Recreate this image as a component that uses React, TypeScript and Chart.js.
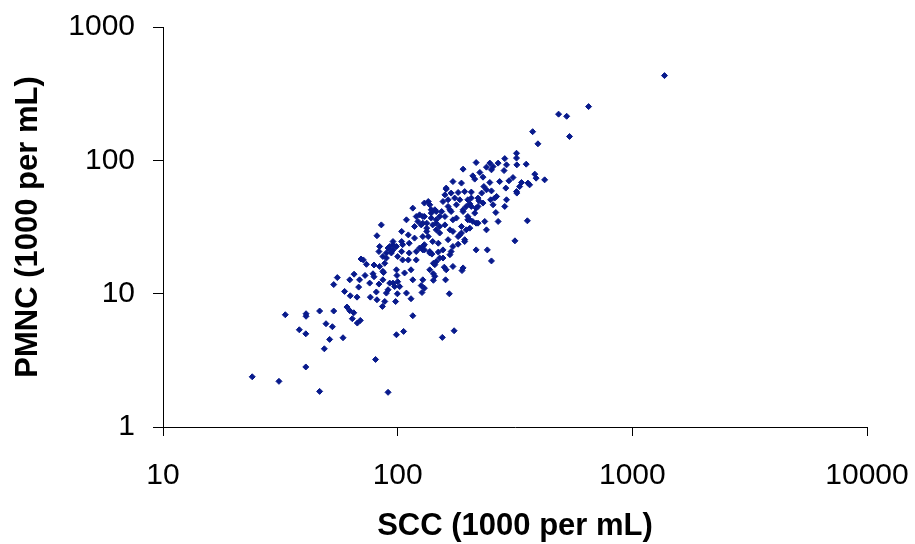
import React, { useEffect, useRef } from "react";
import { Chart, registerables } from "chart.js";

Chart.register(...registerables);

// SCC (1000 per mL) values, x axis
const sccValues: number[] = [
  24.0, 31.2, 46.5, 40.6, 33.2, 40.7, 40.7, 46.5, 53.4, 38.1, 40.6, 49.5, 52.7, 51.3, 48.7, 58.5, 80.5, 91.0, 98.8, 106,
  60.8, 62.5, 65.0, 64.1, 67.3, 69.3, 86.1, 98.0, 116, 155, 174,
  55.3, 53.4, 65.2, 72.6, 59.4, 62.8, 67.1, 68.2, 76.5, 81.1, 83.2, 78.5, 87.1, 69.8, 73.6, 79.3, 83.2, 71.4, 79.3, 81.6,
  81.6, 99.7, 114, 99.3, 100, 92.5, 97.1, 86.5, 88.1, 83.8, 91.0, 89.5, 88.1, 95.5, 94.0, 105, 112, 112, 114, 105,
  100, 124, 120, 85.2, 86.5, 86.5, 91.0, 95.5, 102, 109,
  127, 126, 128, 142, 142, 160, 158, 142, 188, 216, 167, 156, 181, 193, 149, 140, 137, 166, 130, 144,
  161, 172, 146, 111, 120, 128, 169, 241, 251, 190, 316, 357, 151, 144, 172, 156, 130,
  116, 109, 135, 137, 130, 161, 169, 164, 175, 146, 139, 154, 124, 122, 128, 118, 104, 95.5, 92.5, 98.8,
  94.0, 104, 83.8, 89.5, 135, 141, 141, 146, 130, 128, 144, 156, 164, 169, 178, 184, 190, 196, 172, 159,
  146, 133, 151, 167, 187, 199, 203, 181, 164, 149, 128, 193, 159, 172, 133, 184, 209, 239, 235, 268,
  262, 206, 220, 213, 199, 216, 187, 255, 286, 291, 249, 222, 206, 203, 259, 231, 216,
  396, 321, 321, 322, 286, 353, 216, 190, 247, 255, 239, 268, 251, 284, 224, 209, 213, 231, 423, 384,
  389, 359, 365, 337, 331, 321, 322, 298, 310, 289, 247, 251, 233, 172, 187, 161, 193, 181, 206, 291,
  159, 220, 199,
  1371, 651, 485, 525, 540, 376,
  120, 126, 133, 111, 104, 95.5, 89.5, 118, 137, 130, 146, 139,
  151, 167, 178, 190, 203, 220, 196, 151, 139, 128, 228, 239, 272, 264,
  62.5, 68.8, 76.0, 98.8, 107, 116, 137,
];

// PMNC (1000 per mL) values, y axis
const pmncValues: number[] = [
  2.38, 2.20, 1.85, 2.82, 6.95, 7.07, 6.77, 7.41, 7.41, 5.36, 5.00, 5.95, 5.65, 4.54, 3.86, 4.67, 3.21, 1.82, 4.92, 5.21,
  7.94, 7.45, 7.19, 6.49, 6.02, 6.30, 8.02, 8.73, 6.83, 4.70, 5.27,
  13.2, 11.7, 14.0, 13.7, 10.4, 9.64, 9.42, 11.2, 9.42, 10.3, 11.8, 14.1, 14.4, 18.2, 16.6, 16.4, 20.7, 17.9, 13.4, 27.2,
  9.00, 9.98, 9.16, 13.7, 12.3, 12.0, 11.3, 14.7, 16.9, 22.6, 22.0, 10.1, 8.74, 23.3, 20.2, 23.3, 23.9, 20.2, 15.1, 17.9,
  19.0, 22.0, 20.7, 32.8, 19.0, 12.7, 10.7, 12.0, 11.3, 10.1,
  10.2, 11.5, 12.7, 12.6, 14.1, 12.7, 15.8, 16.9, 14.9, 21.3, 19.6, 18.5, 23.5, 24.6, 20.5, 19.8, 20.7, 9.98, 11.0, 13.5,
  15.1, 16.0, 17.4, 17.9, 17.9, 21.3, 20.7, 21.3, 17.6, 15.6, 24.9, 35.2, 18.5, 16.5, 22.6, 21.3, 21.3,
  43.8, 35.8, 49.1, 46.4, 47.8, 61.9, 56.8, 50.6, 52.1, 41.3, 40.2, 41.3, 39.0, 34.8, 33.8, 31.9, 29.3, 24.6, 22.6, 22.6,
  20.7, 20.7, 16.0, 18.5, 26.8, 24.6, 32.8, 30.1, 37.9, 22.6, 42.6, 49.1, 45.1, 41.3, 46.4, 50.6, 41.3, 45.1, 35.8, 37.9,
  33.8, 33.8, 28.5, 30.1, 31.9, 35.8, 31.0, 26.8, 25.4, 23.9, 26.8, 25.4, 32.8, 29.3, 31.0, 27.6, 34.8, 30.1, 34.8, 34.8,
  40.6, 45.1, 45.1, 40.2, 37.9, 33.8, 28.5, 46.4, 45.1, 50.6, 50.6, 49.7, 52.1, 47.2, 52.1, 47.8, 43.8,
  133, 113, 104, 92.5, 103, 93.6, 96.2, 85.9, 95.3, 89.8, 88.9, 95.3, 84.9, 83.8, 81.1, 76.5, 72.3, 74.8, 71.4, 78.8,
  73.5, 67.5, 65.5, 68.2, 63.6, 58.3, 56.8, 70.2, 74.3, 61.9, 68.2, 59.0, 63.6, 69.3, 67.5, 60.8, 58.3, 57.4, 57.8, 92.5,
  55.1, 52.1, 50.6,
  432, 253, 222, 214, 151, 164,
  37.9, 32.8, 29.3, 27.6, 24.6, 21.3, 20.2, 26.1, 20.2, 23.3, 35.8, 42.6,
  37.9, 42.6, 36.9, 42.6, 35.8, 33.8, 30.1, 31.9, 36.9, 37.9, 56.8, 60.1, 69.3, 53.6,
  12.7, 12.7, 12.0, 15.1, 14.3, 12.7, 15.1,
];

const xTickValues: number[] = [10, 100, 1000, 10000];
const yTickValues: number[] = [1, 10, 100, 1000];

const xTitle = "SCC (1000 per mL)";
const yTitle = "PMNC (1000 per mL)";

const FONT = "'Liberation Sans', Arial, Helvetica, sans-serif";

const zeroPadding = (scale: any) => {
  scale.paddingTop = 0;
  scale.paddingBottom = 0;
  scale.paddingLeft = 0;
  scale.paddingRight = 0;
};

export default function App() {
  const canvasRef = useRef<HTMLCanvasElement | null>(null);

  useEffect(() => {
    document.body.style.margin = "0";
    const canvas = canvasRef.current;
    if (!canvas) return;
    const points = sccValues.map((x, i) => ({ x, y: pmncValues[i] }));
    const chart = new Chart(canvas, {
      type: "scatter",
      data: {
        datasets: [
          {
            data: points,
            pointStyle: "rectRot",
            pointRadius: 3,
            pointBorderWidth: 1,
            backgroundColor: "rgb(8,26,140)",
            borderColor: "rgb(8,26,140)",
            pointHoverRadius: 3,
          },
        ],
      },
      options: {
        responsive: false,
        animation: false,
        events: [],
        layout: { padding: { top: 27, right: 48, left: 0, bottom: 0 } },
        plugins: {
          legend: { display: false },
          tooltip: { enabled: false },
          title: { display: false },
        },
        scales: {
          x: {
            type: "logarithmic",
            position: "bottom",
            min: 10,
            max: 10000,
            afterBuildTicks: (scale: any) => {
              scale.ticks = xTickValues.map((v) => ({ value: v }));
            },
            afterFit: (scale: any) => {
              scale.height = 117;
              zeroPadding(scale);
            },
            grid: {
              display: true,
              drawOnChartArea: false,
              drawTicks: true,
              tickLength: 9,
              color: "#000000",
              lineWidth: 1,
            },
            border: { display: true, color: "#000000", width: 1 },
            ticks: {
              autoSkip: false,
              maxRotation: 0,
              padding: 22,
              color: "#000000",
              font: { family: FONT, size: 30 },
              callback: (v: any) => String(v),
            },
            title: {
              display: true,
              text: xTitle,
              color: "#000000",
              font: { family: FONT, size: 31, weight: "bold", lineHeight: 1 },
              padding: { top: 0, bottom: 2 },
            },
          },
          y: {
            type: "logarithmic",
            position: "left",
            min: 1,
            max: 1000,
            afterBuildTicks: (scale: any) => {
              scale.ticks = yTickValues.map((v) => ({ value: v }));
            },
            afterFit: (scale: any) => {
              scale.width = 163;
              zeroPadding(scale);
            },
            grid: {
              display: true,
              drawOnChartArea: false,
              drawTicks: true,
              tickLength: 10,
              color: "#000000",
              lineWidth: 1,
            },
            border: { display: true, color: "#000000", width: 1 },
            ticks: {
              autoSkip: false,
              padding: 18,
              color: "#000000",
              font: { family: FONT, size: 30 },
              callback: (v: any) => String(v),
            },
            title: {
              display: true,
              text: yTitle,
              color: "#000000",
              font: { family: FONT, size: 31, weight: "bold", lineHeight: 1 },
              padding: { top: 13, bottom: 0 },
            },
          },
        },
      },
    });
    return () => {
      chart.destroy();
    };
  }, []);

  return (
    <div style={{ width: 915, height: 544, background: "#ffffff" }}>
      <canvas ref={canvasRef} width={915} height={544} style={{ display: "block" }} />
    </div>
  );
}
